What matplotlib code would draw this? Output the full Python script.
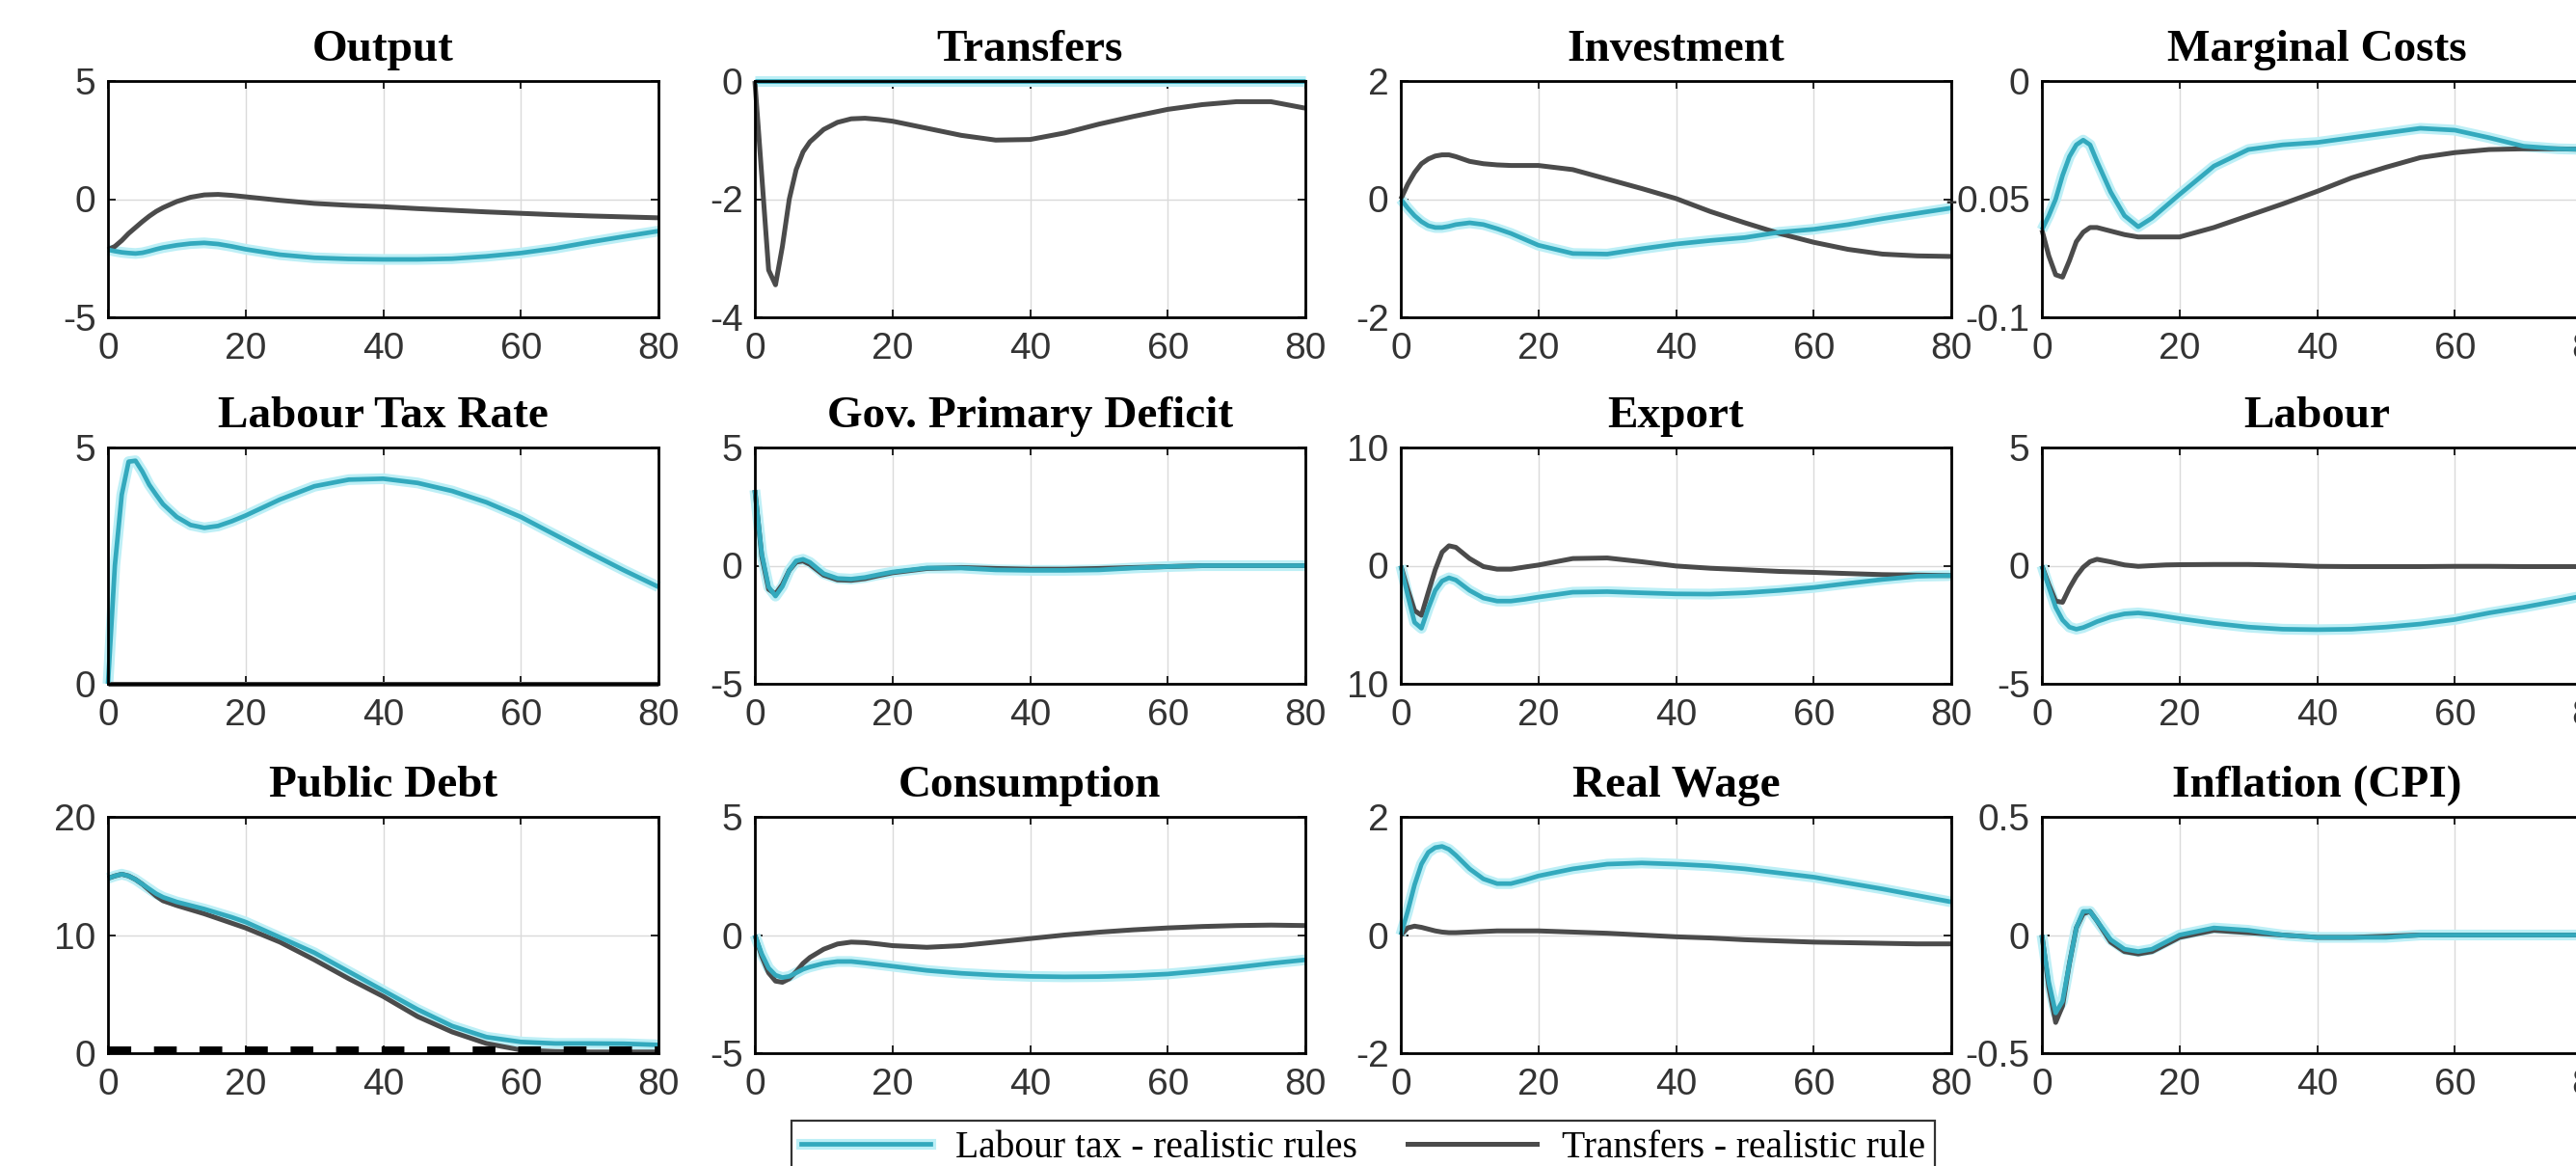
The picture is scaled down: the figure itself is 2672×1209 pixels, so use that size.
import matplotlib
matplotlib.use('Agg')
import matplotlib.pyplot as plt
from matplotlib.lines import Line2D

# ---------------- data ----------------
X = [0, 1, 2, 3, 4, 5, 6, 7, 8, 10, 12, 14, 16, 18, 20, 25, 30, 35, 40, 45, 50, 55, 60, 65, 70, 75, 80]

titles = ["Output", "Transfers", "Investment", "Marginal Costs",
          "Labour Tax Rate", "Gov. Primary Deficit", "Export", "Labour",
          "Public Debt", "Consumption", "Real Wage", "Inflation (CPI)"]

output_tax = [-2.14, -2.2, -2.25, -2.28, -2.3, -2.27, -2.2, -2.12, -2.05, -1.95, -1.88, -1.85, -1.9, -2.0, -2.12,
              -2.35, -2.48, -2.53, -2.55, -2.55, -2.52, -2.42, -2.28, -2.08, -1.82, -1.58, -1.35]
output_tr = [-2.14, -2.0, -1.75, -1.45, -1.2, -0.95, -0.72, -0.52, -0.36, -0.1, 0.08, 0.18, 0.2, 0.16, 0.1,
             -0.05, -0.18, -0.26, -0.32, -0.4, -0.47, -0.54, -0.6, -0.66, -0.71, -0.75, -0.79]

transfers_tax = [0] * 27
transfers_tr = [0, -1.6, -3.2, -3.45, -2.8, -2.0, -1.5, -1.2, -1.03, -0.82, -0.7, -0.64, -0.63, -0.65, -0.68,
                -0.8, -0.92, -1.0, -0.99, -0.88, -0.73, -0.6, -0.48, -0.4, -0.35, -0.35, -0.46]

invest_tax = [0, -0.15, -0.28, -0.38, -0.45, -0.48, -0.48, -0.46, -0.43, -0.4, -0.43, -0.5, -0.58, -0.68, -0.78,
              -0.92, -0.93, -0.84, -0.76, -0.7, -0.65, -0.56, -0.51, -0.43, -0.33, -0.24, -0.15]
invest_tr = [0, 0.25, 0.45, 0.6, 0.68, 0.73, 0.75, 0.75, 0.72, 0.64, 0.6, 0.58, 0.57, 0.57, 0.57,
             0.5, 0.34, 0.18, 0.01, -0.21, -0.4, -0.58, -0.73, -0.85, -0.93, -0.96, -0.97]

mc_tax = [-0.063, -0.057, -0.05, -0.04, -0.032, -0.027, -0.025, -0.027, -0.034, -0.047, -0.057, -0.0617, -0.058,
          -0.053, -0.048, -0.036, -0.029, -0.027, -0.026, -0.024, -0.022, -0.02, -0.0208, -0.024, -0.0276, -0.0287, -0.029]
mc_tr = [-0.063, -0.074, -0.082, -0.083, -0.076, -0.068, -0.064, -0.062, -0.062, -0.0635, -0.065, -0.066, -0.066,
         -0.066, -0.066, -0.062, -0.057, -0.052, -0.0467, -0.041, -0.0365, -0.0324, -0.0303, -0.029, -0.0287, -0.0287, -0.029]

ltr_tax = [0, 2.5, 4.0, 4.7, 4.72, 4.49, 4.21, 4.0, 3.8, 3.53, 3.36, 3.3, 3.34, 3.44, 3.56,
           3.9, 4.18, 4.32, 4.34, 4.25, 4.08, 3.84, 3.53, 3.15, 2.77, 2.4, 2.05]
ltr_tr = [0] * 27

def_tax = [3.2, 0.5, -0.9, -1.29, -0.88, -0.2, 0.2, 0.27, 0.14, -0.34, -0.54, -0.57, -0.5, -0.38, -0.27,
           -0.1, -0.1, -0.18, -0.2, -0.2, -0.18, -0.1, -0.04, 0, 0, 0, 0]
def_tr = [3.2, 0.4, -1.0, -1.2, -0.8, -0.2, 0.15, 0.2, 0.05, -0.4, -0.6, -0.62, -0.55, -0.42, -0.3,
          -0.12, -0.08, -0.12, -0.15, -0.15, -0.12, -0.08, -0.04, 0, 0, 0, 0]

export_tax = [0, -2.5, -4.8, -5.3, -3.6, -2.1, -1.3, -1.03, -1.22, -2.1, -2.74, -3.0, -3.0, -2.85, -2.66,
              -2.25, -2.2, -2.3, -2.39, -2.41, -2.3, -2.1, -1.85, -1.5, -1.17, -0.9, -0.84]
export_tr = [0, -2.0, -3.8, -4.2, -2.25, -0.35, 1.14, 1.68, 1.55, 0.6, -0.08, -0.3, -0.3, -0.12, 0.05,
             0.6, 0.65, 0.33, -0.03, -0.22, -0.35, -0.49, -0.57, -0.67, -0.76, -0.8, -0.84]

labour_tax = [0, -0.9, -1.76, -2.3, -2.6, -2.69, -2.62, -2.5, -2.37, -2.17, -2.04, -2.0, -2.06, -2.15, -2.24,
              -2.44, -2.6, -2.69, -2.71, -2.69, -2.6, -2.47, -2.28, -2.0, -1.76, -1.49, -1.2]
labour_tr = [0, -0.8, -1.5, -1.55, -0.95, -0.45, -0.07, 0.17, 0.27, 0.16, 0.03, -0.03, 0.0, 0.03, 0.04,
             0.05, 0.05, 0.02, -0.03, -0.04, -0.04, -0.04, -0.03, -0.03, -0.04, -0.04, -0.04]

debt_tax = [14.8, 15.0, 15.15, 15.0, 14.7, 14.3, 13.9, 13.5, 13.2, 12.8, 12.5, 12.2, 11.85, 11.5, 11.1,
            9.8, 8.5, 6.9, 5.3, 3.7, 2.3, 1.36, 0.95, 0.82, 0.82, 0.8, 0.7]
debt_tr = [14.8, 15.0, 15.15, 15.0, 14.7, 14.3, 13.8, 13.3, 12.9, 12.5, 12.15, 11.8, 11.4, 11.0, 10.6,
           9.4, 7.9, 6.3, 4.8, 3.1, 1.8, 0.82, 0.27, 0.14, 0.1, 0.1, 0.1]
debt_ref_x = [0, 80]
debt_ref = [0.35, 0.35]

cons_tax = [0, -0.8, -1.4, -1.7, -1.8, -1.75, -1.6, -1.45, -1.35, -1.2, -1.12, -1.12, -1.18, -1.25, -1.32,
            -1.5, -1.62, -1.7, -1.75, -1.77, -1.76, -1.72, -1.65, -1.52, -1.37, -1.2, -1.05]
cons_tr = [0, -0.9, -1.6, -1.95, -2.0, -1.85, -1.55, -1.2, -0.95, -0.6, -0.38, -0.3, -0.32, -0.38, -0.45,
           -0.52, -0.45, -0.3, -0.15, 0.0, 0.12, 0.22, 0.3, 0.36, 0.4, 0.42, 0.4]

wage_tax = [0, 0.4, 0.85, 1.2, 1.4, 1.48, 1.5, 1.45, 1.35, 1.12, 0.95, 0.87, 0.87, 0.93, 1.0,
            1.12, 1.2, 1.22, 1.2, 1.17, 1.12, 1.05, 0.98, 0.88, 0.78, 0.67, 0.56]
wage_tr = [0, 0.12, 0.15, 0.13, 0.1, 0.07, 0.05, 0.04, 0.04, 0.05, 0.06, 0.07, 0.07, 0.07, 0.07,
           0.05, 0.03, 0.0, -0.03, -0.05, -0.08, -0.1, -0.12, -0.13, -0.14, -0.15, -0.15]

infl_tax = [0, -0.2, -0.33, -0.28, -0.12, 0.03, 0.1, 0.1, 0.06, -0.02, -0.06, -0.07, -0.06, -0.03, 0.0,
            0.03, 0.02, 0.0, -0.01, -0.01, -0.01, 0.0, 0.0, 0.0, 0.0, 0.0, 0.0]
infl_tr = [0, -0.22, -0.37, -0.3, -0.12, 0.03, 0.09, 0.1, 0.06, -0.03, -0.07, -0.08, -0.07, -0.04, -0.01,
           0.02, 0.01, 0.0, -0.01, -0.01, -0.005, 0.0, 0.0, 0.0, 0.0, 0.0, 0.0]

series_tax = [output_tax, transfers_tax, invest_tax, mc_tax, ltr_tax, def_tax, export_tax, labour_tax,
              debt_tax, cons_tax, wage_tax, infl_tax]
series_tr = [output_tr, transfers_tr, invest_tr, mc_tr, ltr_tr, def_tr, export_tr, labour_tr,
             debt_tr, cons_tr, wage_tr, infl_tr]

yticks = [[-5, 0, 5], [-4, -2, 0], [-2, 0, 2], [-0.1, -0.05, 0],
          [0, 5], [-5, 0, 5], [-10, 0, 10], [-5, 0, 5],
          [0, 10, 20], [-5, 0, 5], [-2, 0, 2], [-0.5, 0, 0.5]]
ytick_labels = [["-5", "0", "5"], ["-4", "-2", "0"], ["-2", "0", "2"], ["-0.1", "-0.05", "0"],
                ["0", "5"], ["-5", "0", "5"], ["10", "0", "10"], ["-5", "0", "5"],
                ["0", "10", "20"], ["-5", "0", "5"], ["-2", "0", "2"], ["-0.5", "0", "0.5"]]
xticks = [0, 20, 40, 60, 80]
xtick_labels = ["0", "20", "40", "60", "80"]

legend_labels = ["Labour tax - realistic rules", "Transfers - realistic rule"]

# ---------------- style ----------------
W, H, DPI = 2672, 1209, 100
CYAN = '#33a9bd'
CYAN_HALO = '#bdeff6'
DARK = '#4b4b4b'
plt.rcParams['lines.scale_dashes'] = False

fig = plt.figure(figsize=(W / DPI, H / DPI), dpi=DPI)
fig.patch.set_facecolor('white')

COL_LEFT = [112, 783, 1453, 2118]
COL_W = 571
ROW_TOP = [84, 464, 847]
ROW_H = 245

tick_font = dict(family='Liberation Sans', size=28)

for i in range(12):
    r, c = divmod(i, 4)
    l = COL_LEFT[c]
    t = ROW_TOP[r]
    ax = fig.add_axes([l / W, 1 - (t + ROW_H) / H, COL_W / W, ROW_H / H])
    ax.plot(X, series_tax[i], color=CYAN_HALO, lw=8, zorder=2, solid_capstyle='butt', clip_on=False)
    ax.plot(X, series_tr[i], color=DARK, lw=3.6, zorder=3, solid_capstyle='butt', clip_on=False)
    ax.plot(X, series_tax[i], color=CYAN, lw=3.4, zorder=4, solid_capstyle='butt', clip_on=False)
    if i == 8:
        ax.plot(debt_ref_x, debt_ref, color='black', lw=5, dashes=(17, 17), zorder=5, clip_on=False)
    ax.set_xlim(0, 80)
    ax.set_ylim(yticks[i][0], yticks[i][-1])
    ax.set_xticks(xticks)
    ax.set_xticklabels(xtick_labels, fontdict=tick_font, color='#333333')
    ax.set_yticks(yticks[i])
    ax.set_yticklabels(ytick_labels[i], fontdict=tick_font, color='#333333')
    ax.tick_params(axis='both', direction='in', length=6, width=1.2, top=True, right=True)
    ax.tick_params(axis='x', pad=11)
    ax.tick_params(axis='y', pad=9)
    ax.grid(True, color='#dadada', lw=1.0, zorder=0)
    for s in ax.spines.values():
        s.set_linewidth(2.0)
        s.set_color('black')
        s.set_zorder(6)
    ax.set_title(titles[i], family='Liberation Serif', fontweight='bold', fontsize=34, pad=15)

# legend
h1 = (Line2D([], [], color=CYAN_HALO, lw=8), Line2D([], [], color=CYAN, lw=3.4))
h2 = Line2D([], [], color=DARK, lw=3.6)
leg = fig.legend([h1, h2], legend_labels, loc='upper left',
                 bbox_to_anchor=(821 / W, 1 - 1162 / H), ncol=2,
                 prop=dict(family='Liberation Serif', size=28.5),
                 frameon=True, fancybox=False, edgecolor='black',
                 handlelength=3.4, handletextpad=0.65, columnspacing=1.3,
                 borderpad=0.25, borderaxespad=0)
leg.get_frame().set_linewidth(1.6)

fig.savefig('out.png', dpi=DPI, facecolor='white')
